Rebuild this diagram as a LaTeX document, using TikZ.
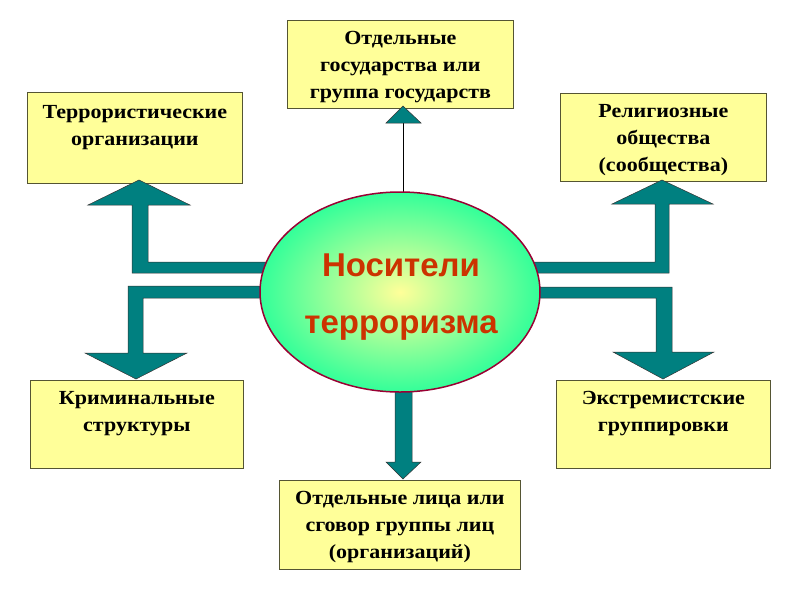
\documentclass[tikz,border=0pt]{standalone}
\usepackage{fontspec}
\setmainfont{Liberation Serif}[FakeStretch=1.1]
\newfontfamily\arialfont{Liberation Sans}
\usetikzlibrary{shapes.geometric}
\definecolor{boxfill}{HTML}{FFFF99}
\definecolor{boxline}{HTML}{555533}
\definecolor{teal2}{HTML}{008080}
\definecolor{arrline}{HTML}{333333}
\definecolor{elline}{HTML}{990033}
\definecolor{eltext}{HTML}{CC3300}
\definecolor{elin}{HTML}{FFFF99}
\definecolor{elout}{HTML}{33FF99}
\tikzset{
  box/.style={draw=boxline, line width=0.8pt, fill=boxfill, rectangle, inner sep=0pt, anchor=north west},
  boxtext/.style={anchor=north, inner sep=0pt, align=center, font=\fontsize{20}{27}\selectfont\bfseries},
  blockarrow/.style={fill=teal2, draw=arrline, line width=0.5pt, line join=miter},
  center/.style={ellipse, draw=elline, line width=1.5pt, inner color=elin, outer color=elout,
    minimum width=280pt, minimum height=200pt, inner sep=0pt},
  centertext/.style={inner sep=0pt, align=center, text=eltext, font=\arialfont\fontsize{33}{57}\selectfont\bfseries}
}
\begin{document}
\begin{tikzpicture}[x=1pt,y=-1pt]
\useasboundingbox (0,0) rectangle (800,600);
\fill[white] (0,0) rectangle (800,600);

% boxes
\node[box, minimum width=226pt, minimum height=88pt] (top) at (287,20) {};
\node[boxtext] (toptxt) at ([yshift=-11pt]top.north) {Отдельные\\государства или\\группа государств};

\node[box, minimum width=215pt, minimum height=91pt] (tl) at (27,92) {};
\node[boxtext] (tltxt) at ([yshift=-13pt]tl.north) {Террористические\\организации};

\node[box, minimum width=206pt, minimum height=88pt] (tr) at (560,93) {};
\node[boxtext] (trtxt) at ([yshift=-11pt]tr.north) {Религиозные\\общества\\(сообщества)};

\node[box, minimum width=213pt, minimum height=88pt] (bl) at (30,380) {};
\node[boxtext] (bltxt) at ([yshift=-11pt]bl.north) {Криминальные\\структуры};

\node[box, minimum width=214pt, minimum height=88pt] (br) at (556,380) {};
\node[boxtext] (brtxt) at ([yshift=-11pt]br.north) {Экстремистские\\группировки};

\node[box, minimum width=241pt, minimum height=89pt] (bot) at (279,480) {};
\node[boxtext] (bottxt) at ([yshift=-11pt]bot.north) {Отдельные лица или\\сговор группы лиц\\(организаций)};

% block arrows
\draw[blockarrow] (300,262) -- (148,262) -- (148,205) -- (190,205) -- (139,180) -- (88,205) -- (132,205) -- (132,273) -- (300,273) -- cycle;
\draw[blockarrow] (300,286) -- (128,286) -- (128,353) -- (85,353) -- (136,379) -- (187,353) -- (143,353) -- (143,298) -- (300,298) -- cycle;
\draw[blockarrow] (500,262) -- (655,262) -- (655,204) -- (612,204) -- (662,180) -- (713,204) -- (669,204) -- (669,273) -- (500,273) -- cycle;
\draw[blockarrow] (500,287) -- (672,287) -- (672,352) -- (714,352) -- (663,379) -- (613,352) -- (656,352) -- (656,298) -- (500,298) -- cycle;
\draw[blockarrow] (395,370) -- (412,370) -- (412,462) -- (421,462) -- (403,479) -- (386,462) -- (395,462) -- cycle;

% top thin arrow
\coordinate (thead) at (403,123);
\draw[line width=1pt, black] (403,250) -- (thead);
\draw[blockarrow] (386,123) -- (403,106) -- (421,123) -- cycle;

% centre
\node[center] (c) at (400,292) {};
\node[centertext] (ct) at (401,297) {Носители\\терроризма};
\end{tikzpicture}
\end{document}
